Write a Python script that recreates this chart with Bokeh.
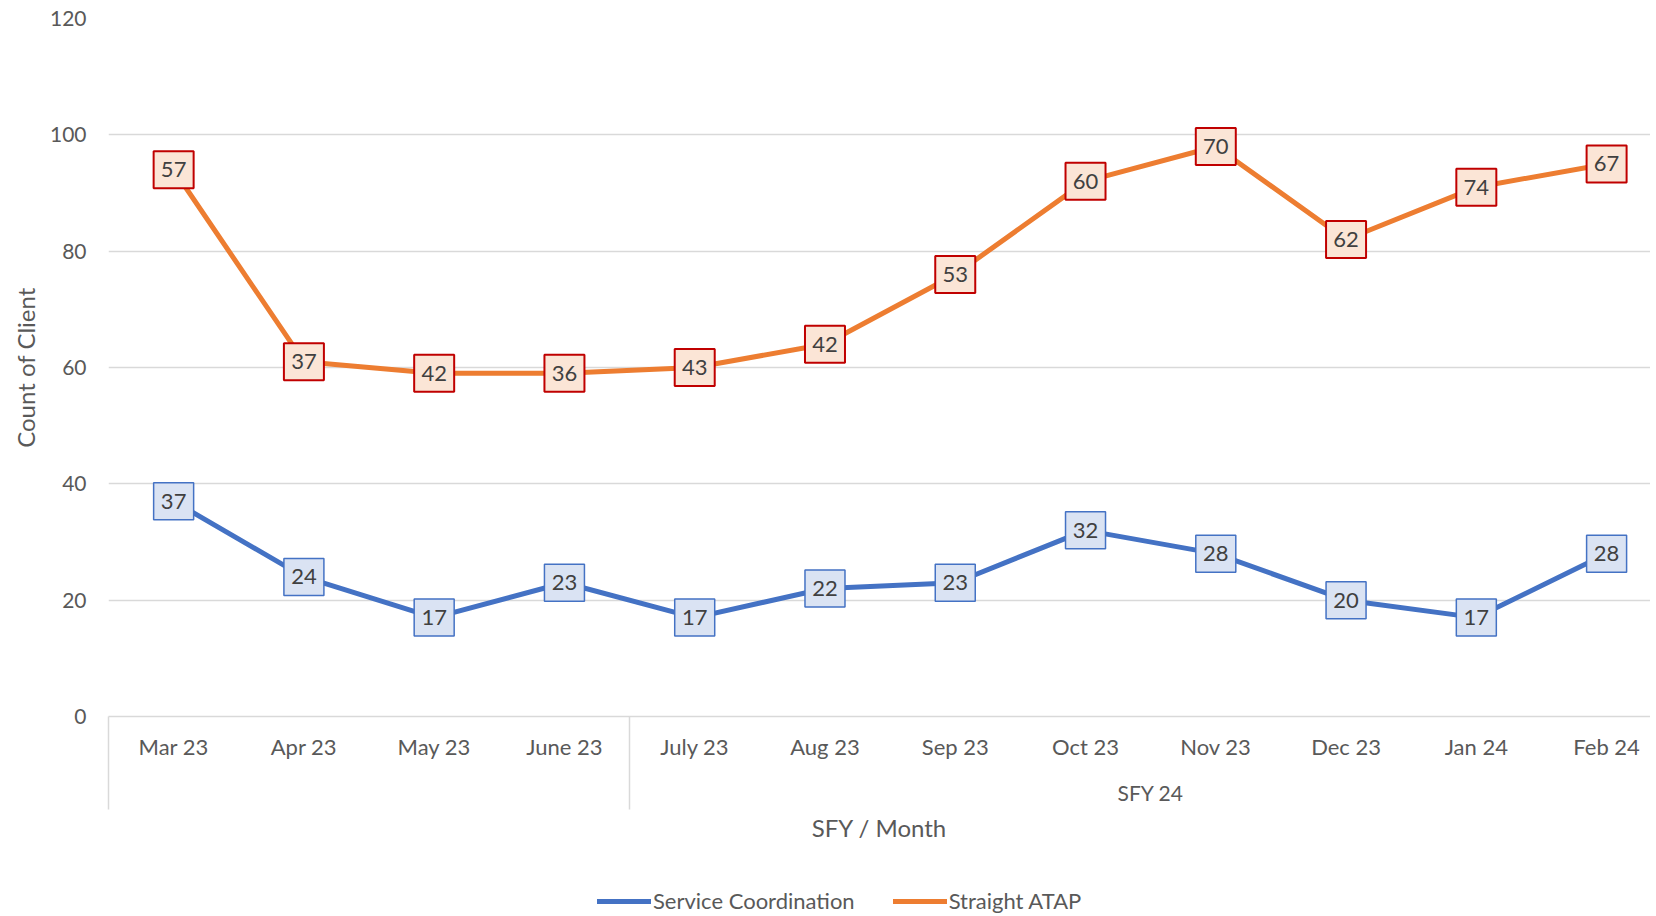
from bokeh.plotting import figure
from bokeh.layouts import column
from bokeh.models import (Range1d, FixedTicker, LinearAxis, Legend, LegendItem,
                          ColumnDataSource)
from bokeh.core.properties import value
from bokeh.embed import file_html
from bokeh.resources import INLINE

months = ["Mar 23", "Apr 23", "May 23", "June 23", "July 23", "Aug 23",
          "Sep 23", "Oct 23", "Nov 23", "Dec 23", "Jan 24", "Feb 24"]
service_coordination = [37, 24, 17, 23, 17, 22, 23, 32, 28, 20, 17, 28]
straight_atap = [57, 37, 42, 36, 43, 42, 53, 60, 70, 62, 74, 67]
group_labels = {7.5: "SFY 24"}
group_bounds = [-0.5, 3.5, 11.5]
y_ticks = [0, 20, 40, 60, 80, 100, 120]

FONT = "Lato"
GRAY = "#595959"
BLUE = "#4472C4"
ORANGE = "#ED7D31"
x = list(range(len(months)))
stacked = [a + b for a, b in zip(service_coordination, straight_atap)]

src = ColumnDataSource(dict(x=x, sc=service_coordination, st=straight_atap,
                            stk=stacked,
                            sc_lab=[str(v) for v in service_coordination],
                            st_lab=[str(v) for v in straight_atap]))

p = figure(frame_width=1542, frame_height=698, output_backend="svg",
           toolbar_location=None,
           x_range=Range1d(-0.5, 11.337), y_range=Range1d(0, 120),
           min_border_left=108, min_border_right=0, min_border_top=18,
           min_border_bottom=0)
p.outline_line_color = None

# grid
p.xgrid.grid_line_color = None
p.ygrid.grid_line_color = "#D9D9D9"
p.ygrid.grid_line_width = 1.5
p.ygrid.ticker = FixedTicker(ticks=y_ticks)

# y axis
p.yaxis.ticker = FixedTicker(ticks=y_ticks)
p.yaxis.axis_line_color = None
p.yaxis.major_tick_line_color = None
p.yaxis.minor_tick_line_color = None
p.yaxis.major_tick_out = 0
p.yaxis.major_tick_in = 0
p.yaxis.minor_tick_out = 0
p.yaxis.major_label_standoff = 22
p.yaxis.major_label_text_font = FONT
p.yaxis.major_label_text_font_size = "21px"
p.yaxis.major_label_text_color = GRAY
p.yaxis.axis_label = "Count of Client"
p.yaxis.axis_label_text_font = FONT
p.yaxis.axis_label_text_font_size = "24px"
p.yaxis.axis_label_text_font_style = "normal"
p.yaxis.axis_label_text_color = GRAY
p.yaxis.axis_label_standoff = 7

# x axis (months)
xa = p.xaxis[0]
xa.ticker = FixedTicker(ticks=x, minor_ticks=group_bounds)
xa.major_label_overrides = {i: m for i, m in enumerate(months)}
xa.axis_line_color = "#D9D9D9"
xa.axis_line_width = 1.5
xa.major_tick_line_color = None
xa.major_tick_out = 0
xa.major_tick_in = 0
xa.minor_tick_line_color = "#D9D9D9"
xa.minor_tick_line_width = 1.5
xa.minor_tick_out = 93
xa.minor_tick_in = 0
xa.major_label_standoff = 16 - 93
xa.major_label_text_font = FONT
xa.major_label_text_font_size = "22px"
xa.major_label_text_color = GRAY

# group axis
ga = LinearAxis(ticker=FixedTicker(ticks=list(group_labels.keys())),
                major_label_overrides=group_labels)
ga.axis_line_color = None
ga.major_tick_line_color = None
ga.minor_tick_line_color = None
ga.major_tick_out = 0
ga.major_tick_in = 0
ga.minor_tick_out = 0
ga.major_label_standoff = 17
ga.major_label_text_font = FONT
ga.major_label_text_font_size = "21px"
ga.major_label_text_color = GRAY
ga.axis_label = "SFY / Month"
ga.axis_label_text_font = FONT
ga.axis_label_text_font_size = "24px"
ga.axis_label_text_font_style = "normal"
ga.axis_label_text_color = GRAY
ga.axis_label_standoff = 5
p.add_layout(ga, "below")

# lines
p.line("x", "sc", source=src, line_color=BLUE, line_width=5,
       line_cap="round", line_join="round")
p.line("x", "stk", source=src, line_color=ORANGE, line_width=5,
       line_cap="round", line_join="round")

# data label boxes
p.rect("x", "sc", width=40, height=37, width_units="screen", height_units="screen",
       source=src, fill_color="#DAE3F3", line_color=BLUE, line_width=1.5)
p.text("x", "sc", text="sc_lab", source=src, text_align="center",
       text_baseline="middle", text_font=value(FONT), text_font_size="22px",
       text_color="#404040")
p.rect("x", "stk", width=40, height=37, width_units="screen", height_units="screen",
       source=src, fill_color="#FBE5D6", line_color="#C00000", line_width=2)
p.text("x", "stk", text="st_lab", source=src, text_align="center",
       text_baseline="middle", text_font=value(FONT), text_font_size="22px",
       text_color="#404040")

# legend strip (series drawn out of view; only the legend shows)
lg = figure(width=1650, height=72, output_backend="svg", toolbar_location=None,
            x_range=Range1d(-0.5, 11.337), y_range=Range1d(1000, 1001),
            min_border=0, x_axis_type=None, y_axis_type=None)
lg.outline_line_color = None
lg.grid.grid_line_color = None
r1 = lg.line("x", "sc", source=src, line_color=BLUE, line_width=5, line_cap="round")
r2 = lg.line("x", "stk", source=src, line_color=ORANGE, line_width=5, line_cap="round")
legend = Legend(items=[LegendItem(label="Service Coordination", renderers=[r1]),
                       LegendItem(label="Straight ATAP", renderers=[r2])],
                orientation="horizontal", location=(489, 2),
                glyph_width=54, label_standoff=2, spacing=38,
                label_text_font=FONT, label_text_font_size="22px",
                label_text_color=GRAY, border_line_color=None,
                background_fill_alpha=0, margin=0, padding=0)
lg.add_layout(legend)

layout = column(p, lg, spacing=0)
open("out.html", "w").write(file_html(layout, INLINE))
